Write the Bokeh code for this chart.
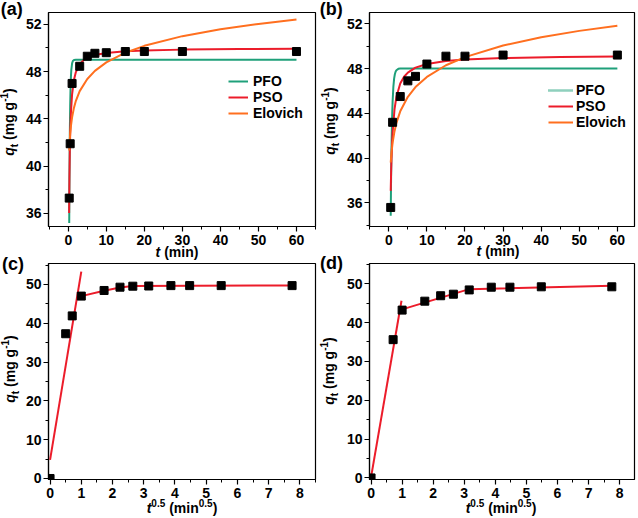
from bokeh.plotting import figure
from bokeh.layouts import gridplot, column
from bokeh.models import Range1d, SingleIntervalTicker, Legend, LegendItem, Div
from bokeh.embed import file_html
from bokeh.resources import INLINE

FONT = "Liberation Sans"
GREEN = "#1fa07a"
RED = "#ec1c2a"
ORANGE = "#ff6f1f"

# ---------------- data: sample (a)/(c) ----------------
t_a = [0.25, 0.5, 1, 3, 5, 7, 10, 15, 20, 30, 60]
q_a = [37.3, 41.9, 47.0, 48.45, 49.3, 49.55, 49.6, 49.7, 49.7, 49.7, 49.7]

pfo_a_t = [0.25, 0.3, 0.4, 0.5, 0.6, 0.7, 0.8, 1.0, 1.2, 1.5, 2, 60]
pfo_a_q = [35.2, 38.3, 42.55, 45.1, 46.65, 47.6, 48.15, 48.7, 48.9, 48.98, 49.0, 49.0]
pso_a_t = [0.22, 0.25, 0.3, 0.4, 0.5, 0.7, 1, 1.5, 2, 3, 4, 5, 7, 10, 15, 20, 30, 45, 60]
pso_a_q = [36.05, 37.3, 38.95, 41.23, 42.73, 44.58, 46.08, 47.32, 47.96, 48.62, 48.96,
           49.16, 49.40, 49.58, 49.72, 49.79, 49.86, 49.91, 49.93]
elo_a_t = [0.25, 0.3, 0.5, 0.7, 1, 1.5, 2, 3, 5, 7, 10, 15, 20, 30, 40, 50, 60]
elo_a_q = [41.33, 41.70, 42.73, 43.41, 44.13, 44.95, 45.53, 46.35, 47.38, 48.06, 48.78,
           49.60, 50.18, 51.00, 51.58, 52.03, 52.40]

rt_c = [0, 0.5, 0.71, 1.0, 1.73, 2.24, 2.65, 3.16, 3.87, 4.47, 5.48, 7.75]
q_c = [0, 37.3, 41.9, 47.0, 48.45, 49.3, 49.55, 49.6, 49.7, 49.7, 49.7, 49.7]
ipd_c1_x = [0, 1.0]
ipd_c1_y = [4.8, 53.3]
ipd_c2_x = [1.0, 1.73, 2.24, 2.65, 7.75]
ipd_c2_y = [47.0, 48.4, 49.2, 49.6, 49.75]

# ---------------- data: sample (b)/(d) ----------------
t_b = [0.5, 1, 3, 5, 7, 10, 15, 20, 30, 60]
q_b = [35.6, 43.2, 45.5, 46.9, 47.3, 48.4, 49.1, 49.1, 49.2, 49.2]

pfo_b_t = [0.5, 0.6, 0.7, 0.8, 0.9, 1.0, 1.2, 1.4, 1.6, 1.8, 2.0, 2.5, 3.0, 60]
pfo_b_q = [34.85, 38.26, 40.78, 42.65, 44.04, 45.07, 46.39, 47.12, 47.51, 47.73, 47.85,
           47.97, 48.0, 48.0]
pso_b_t = [0.5, 0.6, 0.7, 0.85, 1, 1.5, 2, 3, 4, 5, 7, 10, 15, 20, 30, 45, 60]
pso_b_q = [37.08, 38.67, 39.89, 41.27, 42.29, 44.37, 45.48, 46.66, 47.27, 47.64, 48.08,
           48.41, 48.67, 48.80, 48.93, 49.02, 49.07]
elo_b_t = [0.5, 0.7, 1, 1.5, 2, 3, 5, 7, 10, 15, 20, 30, 40, 50, 60]
elo_b_q = [39.61, 40.47, 41.38, 42.41, 43.15, 44.18, 45.48, 46.34, 47.25, 48.29, 49.02,
           50.05, 50.79, 51.36, 51.82]

rt_d = [0, 0.71, 1.0, 1.73, 2.24, 2.65, 3.16, 3.87, 4.47, 5.48, 7.75]
q_d = [0, 35.6, 43.2, 45.5, 46.9, 47.3, 48.4, 49.1, 49.1, 49.2, 49.2]
ipd_d1_x = [0, 0.98]
ipd_d1_y = [0.2, 45.6]
ipd_d2_x = [1.0, 3.16, 7.75]
ipd_d2_y = [43.4, 48.6, 49.45]

# ---------------- label texts ----------------
SUB = "<sub style='font-size:10px'>{}</sub>"
SUP = "<sup style='font-size:10px'>{}</sup>"
YLAB = "<i>q</i>" + SUB.format("t") + " (mg g" + SUP.format("-1") + ")"
XLAB_T = "<i>t</i> (min)"
XLAB_RT = "<i>t</i>" + SUP.format("0.5") + " (min" + SUP.format("0.5") + ")"
PANELS = ["(a)", "(b)", "(c)", "(d)"]


def make_fig(xr, yr, borders, xint, yint):
    l, r, t, b = borders
    p = figure(width=319, height=259, x_range=Range1d(*xr), y_range=Range1d(*yr),
               output_backend="svg", toolbar_location=None,
               min_border_left=l, min_border_right=r, min_border_top=t, min_border_bottom=b)
    p.xgrid.visible = False
    p.ygrid.visible = False
    p.outline_line_color = "black"
    p.outline_line_width = 1.2
    p.outline_line_alpha = 1
    p.background_fill_color = "white"
    p.border_fill_color = "white"
    p.xaxis.ticker = SingleIntervalTicker(interval=xint, num_minor_ticks=2)
    p.yaxis.ticker = SingleIntervalTicker(interval=yint, num_minor_ticks=2)
    for ax in (p.xaxis[0], p.yaxis[0]):
        ax.axis_line_color = "black"
        ax.axis_line_width = 1.2
        ax.major_tick_line_color = "black"
        ax.minor_tick_line_color = "black"
        ax.major_tick_line_width = 1.2
        ax.minor_tick_line_width = 1
        ax.major_tick_in = 0
        ax.major_tick_out = 5
        ax.minor_tick_in = 0
        ax.minor_tick_out = 3
        ax.major_label_text_font = FONT
        ax.major_label_text_font_style = "bold"
        ax.major_label_text_font_size = "14px"
        ax.major_label_text_color = "black"
    p.xaxis.major_label_standoff = 3
    p.yaxis.major_label_standoff = 2
    return p


def kinetics_panel(xr, yr, borders, t, q, pfo, pso, elo, leg_loc, leg_gw, leg_so, dotted_pfo):
    p = make_fig(xr, yr, borders, 10, 4)
    r1 = p.line(pfo[0], pfo[1], line_color=GREEN, line_width=2)
    r2 = p.line(pso[0], pso[1], line_color=RED, line_width=2)
    r3 = p.line(elo[0], elo[1], line_color=ORANGE, line_width=2)
    p.scatter(t, q, marker="square", size=8, fill_color="black", line_color="black")
    leg_pfo = r1
    if dotted_pfo:
        leg_pfo = p.line([float("nan"), float("nan")], [float("nan"), float("nan")],
                         line_color=GREEN, line_width=2.5, line_dash="1 1")
    legend = Legend(items=[LegendItem(label="PFO", renderers=[leg_pfo]),
                           LegendItem(label="PSO", renderers=[r2]),
                           LegendItem(label="Elovich", renderers=[r3])],
                    location=leg_loc, border_line_color=None, background_fill_alpha=0,
                    padding=0, margin=0, spacing=0, label_height=16, glyph_height=16,
                    glyph_width=leg_gw, label_standoff=leg_so,
                    label_text_font=FONT, label_text_font_style="bold",
                    label_text_font_size="14px", label_text_color="black")
    p.add_layout(legend)
    return p


def ipd_panel(xr, yr, borders, x, q, l1, l2):
    p = make_fig(xr, yr, borders, 1, 10)
    p.line(l1[0], l1[1], line_color=RED, line_width=2)
    p.line(l2[0], l2[1], line_color=RED, line_width=2)
    p.scatter(x, q, marker="square", size=8, fill_color="black", line_color="black")
    return p


def text_div(html, cx, cy, size=14, vertical=False):
    tf = "translate(-50%, -50%)" + (" rotate(-90deg)" if vertical else "")
    st = {"position": "absolute", "left": f"{cx}px", "top": f"{cy}px",
          "width": "max-content", "height": "max-content",
          "font-family": FONT, "font-weight": "bold", "font-size": f"{size}px",
          "color": "black", "white-space": "nowrap", "line-height": "1",
          "transform": tf, "z-index": "10", "margin": "0", "padding": "0"}
    return Div(text=html, styles=st, margin=0)


pa = kinetics_panel((-5.2, 65.0), (34.9, 53.0), (48, 4, 12, 32), t_a, q_a,
                    (pfo_a_t, pfo_a_q), (pso_a_t, pso_a_q), (elo_a_t, elo_a_q),
                    (180, 105.5), 20, 5, False)
pb = kinetics_panel((-5.07, 64.5), (33.9, 53.0), (50, 4, 12, 33), t_b, q_b,
                    (pfo_b_t, pfo_b_q), (pso_b_t, pso_b_q), (elo_b_t, elo_b_q),
                    (179, 96), 25, 3, True)
pc = ipd_panel((-0.05, 8.5), (-0.26, 55.4), (48, 3, 4, 39), rt_c, q_c,
               (ipd_c1_x, ipd_c1_y), (ipd_c2_x, ipd_c2_y))
pd = ipd_panel((-0.05, 8.48), (-0.4, 55.2), (48, 4, 4, 39), rt_d, q_d,
               (ipd_d1_x, ipd_d1_y), (ipd_d2_x, ipd_d2_y))

grid = gridplot([[pa, pb], [pc, pd]], toolbar_location=None)

divs = [
    text_div(YLAB, 10, 122, 14, True),
    text_div(YLAB, 331, 121, 14, True),
    text_div(YLAB, 11, 369, 14, True),
    text_div(YLAB, 330, 371, 14, True),
    text_div(XLAB_T, 177, 252, 14),
    text_div(XLAB_T, 498, 251, 14),
    text_div(XLAB_RT, 182, 507, 14),
    text_div(XLAB_RT, 501, 507, 14),
    text_div(PANELS[0], 11.7, 9.2, 18),
    text_div(PANELS[1], 331.3, 9.2, 18),
    text_div(PANELS[2], 13, 264, 18),
    text_div(PANELS[3], 331.5, 263, 18),
]

root = column(grid, *divs)

open("out.html", "w").write(file_html(root, INLINE))
